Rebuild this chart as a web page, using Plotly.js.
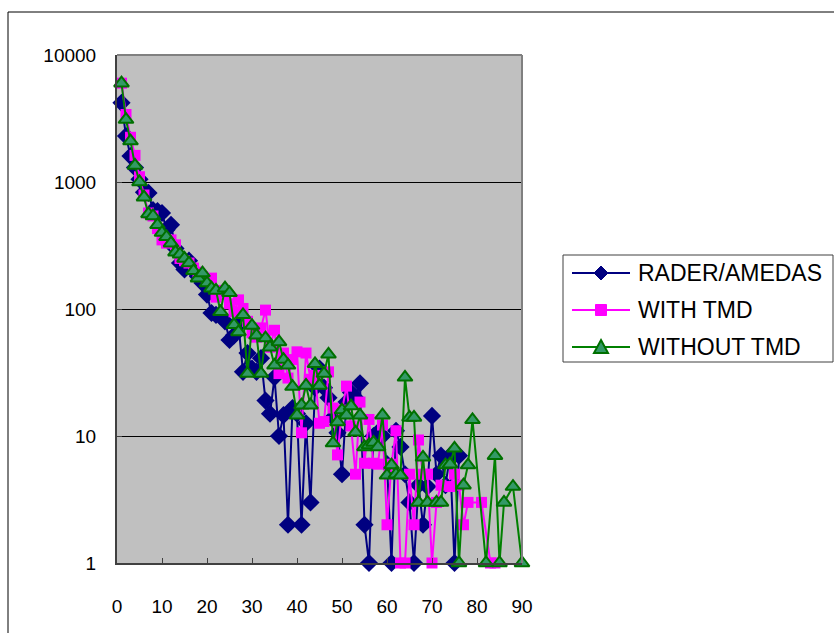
<!DOCTYPE html>
<html>
<head>
<meta charset="utf-8">
<script src="https://cdn.plot.ly/plotly-3.0.1.min.js"></script>
<style>
  html, body { margin: 0; padding: 0; background: #ffffff; }
  #chart { width: 834px; height: 633px; }
</style>
</head>
<body>
<div id="chart"></div>
<script>
// Class index (horizontal axis)
const classIndex = [
  1, 2, 3, 4, 5, 6, 7, 8, 9, 10,
  11, 12, 13, 14, 15, 16, 17, 18, 19, 20,
  21, 22, 23, 24, 25, 26, 27, 28, 29, 30,
  31, 32, 33, 34, 35, 36, 37, 38, 39, 40,
  41, 42, 43, 44, 45, 46, 47, 48, 49, 50,
  51, 52, 53, 54, 55, 56, 57, 58, 59, 60,
  61, 62, 63, 64, 65, 66, 67, 68, 69, 70,
  71, 72, 73, 74, 75, 76, 77, 78, 79, 80,
  81, 82, 83, 84, 85, 86, 87, 88, 89, 90
];

// Counts per class; null = no occurrence
const raderAmedas = [
  4200, 2300, 1600, 1300, 1050, 830, 820, 600, 590, 570,
  420, 460, 300, 230, 205, 240, 200, 180, 160, 130,
  93, 90, 88, 80, 57, 62, 75, 32, 45, 34,
  32, 41, 19, 15, 29, 10, 14.6, 2, 16.6, 15,
  2, 12.6, 3, 24, 34, 24, 20, 14, 10.6, 5,
  18.5, 22, 20, 26, 2, 1, 10, 10.7, 10, 6,
  1, 11, 8.2, 5, 3, 1, 4.1, 2, 4, 14.4,
  5, 7, 4.1, 7, 1, 7, null, null, null, null,
  null, null, null, null, null, null, null, null, null, null
];

const withTmd = [
  6000, 3400, 2250, 1620, 1100, 790, 570, 540, 430, 350,
  330, 350, 320, 250, 240, 230, 210, 195, 180, 170,
  175, 124, 140, 130, 110, 95, 118, 101, 80, 65,
  60, 71, 98, 50, 68, 31, 45, 28.6, 40, 46,
  10.6, 45, 28, 30, 12.6, 13, 32, 16.6, 7.1, 16,
  24.7, 12, 5, 18.5, 6.1, 13.5, 6.1, 6, 12.2, 2,
  6, 11, 1, 1, 5, 2, 9.3, 5, 5, 1,
  3, 4.1, null, 4, 5, 4.1, 2, 3, null, null,
  3, null, 1, 1, null, null, null, null, null, null
];

const withoutTmd = [
  6000, 3100, 2100, 1350, 1000, 760, 560, 540, 460, 400,
  370, 330, 280, 270, 250, 230, 200, 175, 192, 160,
  146, 140, 95, 146, 134, 75, 66, 90, 31, 74,
  62, 31, 59, 50, 36, 55, 40, 36, 24.5, 14.6,
  17.5, 25, 17.5, 37, 25, 31, 44, 8.8, 12.9, 16,
  14.6, 17.2, 10.7, 14.6, 8.2, 8.5, 8.9, 8.2, 14.6, 4.9,
  5.9, 5, 4.9, 29, 14, 14, 3, 6.8, 3, null,
  3, 3, 5.9, 6, 8, 1, 4.1, 5.9, 13.4, null,
  null, 1, null, 7, 1, 3, null, 4, null, 1
];

const seriesNames = ['RADER/AMEDAS', 'WITH TMD', 'WITHOUT TMD'];

const yTickVals = [1, 10, 100, 1000, 10000];
const yTickText = ['1', '10', '100', '1000', '10000'];
const xTickVals = [0, 10, 20, 30, 40, 50, 60, 70, 80, 90];

// Figure geometry (px)
const W = 834, H = 633;
const M = { l: 117, r: 312, t: 55, b: 70 };
const plotW = W - M.l - M.r;
const plotH = H - M.t - M.b;
const px = v => (v - M.l) / plotW;           // pixel x -> paper x
const py = v => (H - M.b - v) / plotH;       // pixel y -> paper y

const tickFont = { family: 'Liberation Sans, Arial, sans-serif', size: 19, color: '#000000' };
const legendFont = { family: 'Liberation Sans, Arial, sans-serif', size: 23, color: '#000000' };

const styles = [
  { line: '#000080', fill: '#000080', edge: '#000080', symbol: 'diamond', size: 14 },
  { line: '#FF00FF', fill: '#FF00FF', edge: '#FF00FF', symbol: 'square', size: 11 },
  { line: '#008000', fill: '#339966', edge: '#007000', symbol: 'triangle-up', size: 13 }
];
const seriesValues = [raderAmedas, withTmd, withoutTmd];

const traces = seriesValues.map((vals, i) => ({
  x: classIndex, y: vals, name: seriesNames[i],
  type: 'scatter', mode: 'lines+markers', connectgaps: true, cliponaxis: false,
  showlegend: false,
  line: { color: styles[i].line, width: 2 },
  marker: {
    symbol: styles[i].symbol, size: styles[i].size, color: styles[i].fill,
    line: { color: styles[i].edge, width: styles[i].symbol === 'triangle-up' ? 2 : 0 }
  }
}));

// Legend box drawn with shapes + annotations
const legBox = { x0: 563, x1: 833, y0: 255, y1: 362 };
const legRows = [273, 310, 347];
const legLine = { x0: 572, x1: 630, mid: 601 };

function markerPath(sym, cx, cy) {
  const P = (x, y) => px(x) + ',' + py(y);
  if (sym === 'diamond') {
    return 'M' + P(cx, cy - 7) + ' L' + P(cx + 7, cy) + ' L' + P(cx, cy + 7) + ' L' + P(cx - 7, cy) + ' Z';
  }
  if (sym === 'square') {
    return 'M' + P(cx - 5.5, cy - 5.5) + ' L' + P(cx + 5.5, cy - 5.5) + ' L' + P(cx + 5.5, cy + 5.5) + ' L' + P(cx - 5.5, cy + 5.5) + ' Z';
  }
  return 'M' + P(cx, cy - 7) + ' L' + P(cx + 7, cy + 6) + ' L' + P(cx - 7, cy + 6) + ' Z';
}

const shapes = [
  // grey frame along the top and right of the plot area
  { type: 'line', xref: 'paper', yref: 'paper', x0: 0, x1: 1, y0: 1, y1: 1,
    line: { color: '#808080', width: 2 } },
  { type: 'line', xref: 'paper', yref: 'paper', x0: 1, x1: 1, y0: 0, y1: 1,
    line: { color: '#808080', width: 2 } },
  // outer chart border
  { type: 'rect', xref: 'paper', yref: 'paper', x0: px(8), x1: px(900), y0: py(700), y1: py(12),
    line: { color: '#000000', width: 1 }, layer: 'below' },
  // legend frame
  { type: 'rect', xref: 'paper', yref: 'paper', x0: px(legBox.x0), x1: px(legBox.x1), y0: py(legBox.y1), y1: py(legBox.y0),
    line: { color: '#404040', width: 1 }, fillcolor: '#ffffff' }
];
const annotations = [];

seriesNames.forEach((name, i) => {
  const yRow = legRows[i];
  shapes.push({ type: 'line', xref: 'paper', yref: 'paper',
    x0: px(legLine.x0), x1: px(legLine.x1), y0: py(yRow), y1: py(yRow),
    line: { color: styles[i].line, width: 2 } });
  shapes.push({ type: 'path', xref: 'paper', yref: 'paper',
    path: markerPath(styles[i].symbol, legLine.mid, yRow),
    fillcolor: styles[i].fill,
    line: { color: styles[i].edge, width: styles[i].symbol === 'triangle-up' ? 2 : 1 } });
  annotations.push({ xref: 'paper', yref: 'paper', x: px(636), y: py(yRow),
    xanchor: 'left', yanchor: 'middle', showarrow: false, text: name, font: legendFont });
});

const layout = {
  width: W,
  height: H,
  margin: { l: M.l, r: M.r, t: M.t, b: M.b, pad: 0 },
  paper_bgcolor: '#ffffff',
  plot_bgcolor: '#C0C0C0',
  showlegend: false,
  xaxis: {
    type: 'linear',
    range: [0, 90],
    tickvals: xTickVals,
    ticks: 'inside',
    ticklen: 5,
    tickwidth: 1,
    tickcolor: '#404040',
    showgrid: false,
    zeroline: false,
    showline: true,
    linecolor: '#404040',
    linewidth: 2,
    tickfont: tickFont,
    ticklabelstandoff: 25
  },
  yaxis: {
    type: 'log',
    range: [0, 4],
    tickvals: yTickVals,
    ticktext: yTickText,
    ticks: 'inside',
    ticklen: 5,
    tickwidth: 1,
    tickcolor: '#404040',
    showgrid: true,
    gridcolor: '#000000',
    gridwidth: 1,
    zeroline: false,
    showline: true,
    linecolor: '#404040',
    linewidth: 2,
    tickfont: tickFont,
    ticklabelstandoff: 15
  },
  shapes: shapes,
  annotations: annotations
};

Plotly.newPlot('chart', traces, layout, { displayModeBar: false, staticPlot: true });
</script>
</body>
</html>
